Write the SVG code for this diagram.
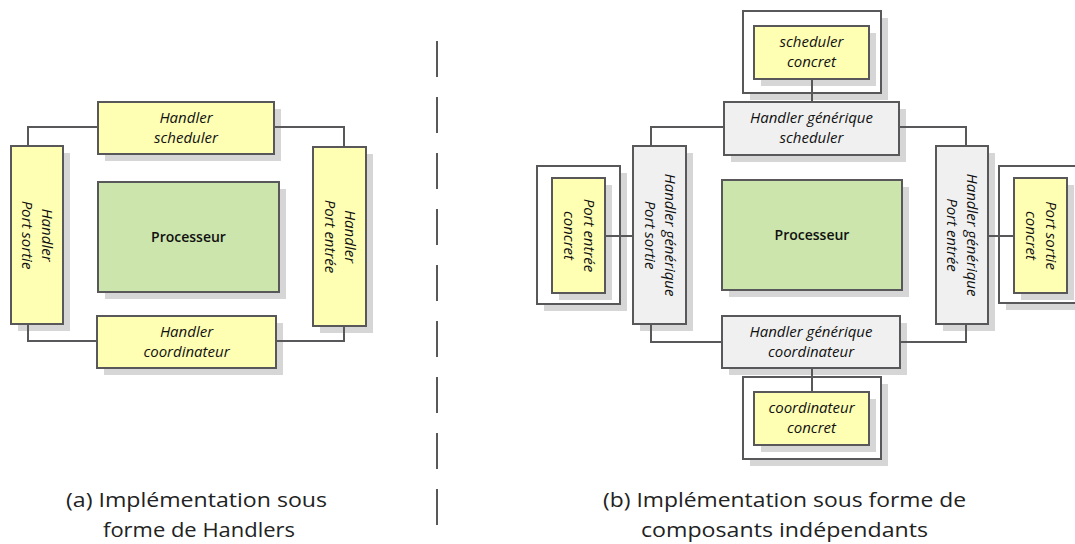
<svg xmlns="http://www.w3.org/2000/svg" width="1075" height="544" viewBox="0 0 1075 544">
<style>
.b{stroke:#58585a;stroke-width:2}
.y{fill:#ffffb4}
.g{fill:#f0f0f0}
.w{fill:#ffffff}
.p{fill:#cbe5ac}
.s{fill:#d6d6d6}
.t{font-family:"Open Sans","Liberation Sans",sans-serif;font-size:15px;font-weight:500;font-style:italic;fill:#111;text-anchor:middle}
.n{font-family:"Open Sans","Liberation Sans",sans-serif;font-size:14px;font-weight:600;fill:#111;text-anchor:middle}
.c{font-family:"Open Sans","Liberation Sans",sans-serif;font-size:20px;fill:#222;text-anchor:middle}
.l{fill:none;stroke:#58585a;stroke-width:2}
</style>
<rect width="1075" height="544" fill="#fff"/>
<g id="handler-scheduler">
<rect class="s" x="105" y="109" width="176" height="52"/>
<rect class="b y" x="98" y="102" width="176" height="52"/>
<text class="t" x="186" y="123">Handler</text>
<text class="t" x="186" y="143">scheduler</text>
</g>
<g id="handler-port-sortie">
<rect class="s" x="18" y="153" width="52" height="178"/>
<rect class="b y" x="11" y="146" width="52" height="178"/>
<g transform="translate(37,235) rotate(90)">
<text class="t" x="0" y="-5">Handler</text>
<text class="t" x="0" y="15">Port sortie</text>
</g>
</g>
<g id="handler-port-entree">
<rect class="s" x="320" y="154" width="53" height="179"/>
<rect class="b y" x="313" y="147" width="53" height="179"/>
<g transform="translate(339.5,236.5) rotate(90)">
<text class="t" x="0" y="-5">Handler</text>
<text class="t" x="0" y="15">Port entrée</text>
</g>
</g>
<g id="processeur-a">
<rect class="s" x="105" y="189" width="181" height="110"/>
<rect class="b p" x="98" y="182" width="181" height="110"/>
<text class="n" x="188.5" y="242">Processeur</text>
</g>
<g id="handler-coordinateur">
<rect class="s" x="104" y="323" width="179" height="52"/>
<rect class="b y" x="97" y="316" width="179" height="52"/>
<text class="t" x="186.5" y="337">Handler</text>
<text class="t" x="186.5" y="357">coordinateur</text>
</g>
<g id="scheduler-concret">
<rect class="s" x="750" y="18" width="138" height="82"/>
<rect class="b w" x="743" y="11" width="138" height="82"/>
<rect class="s" x="761" y="33" width="115" height="53"/>
<rect class="b y" x="754" y="26" width="115" height="53"/>
<text class="t" x="811.5" y="47">scheduler</text>
<text class="t" x="811.5" y="67">concret</text>
</g>
<g id="handler-generique-scheduler">
<rect class="s" x="731" y="109" width="175" height="53"/>
<rect class="b g" x="724" y="102" width="175" height="53"/>
<text class="t" x="811.5" y="123">Handler générique</text>
<text class="t" x="811.5" y="143">scheduler</text>
</g>
<g id="port-entree-concret">
<rect class="s" x="544" y="173" width="83" height="138"/>
<rect class="b w" x="537" y="166" width="83" height="138"/>
<rect class="s" x="559" y="185" width="53" height="115"/>
<rect class="b y" x="552" y="178" width="53" height="115"/>
<g transform="translate(578.5,235.5) rotate(90)">
<text class="t" x="0" y="-5">Port entrée</text>
<text class="t" x="0" y="15">concret</text>
</g>
</g>
<g id="handler-generique-port-sortie">
<rect class="s" x="640" y="153" width="53" height="178"/>
<rect class="b g" x="633" y="146" width="53" height="178"/>
<g transform="translate(659.5,235) rotate(90)">
<text class="t" x="0" y="-5">Handler générique</text>
<text class="t" x="0" y="15">Port sortie</text>
</g>
</g>
<g id="processeur-b">
<rect class="s" x="729" y="187" width="180" height="110"/>
<rect class="b p" x="722" y="180" width="180" height="110"/>
<text class="n" x="812" y="240">Processeur</text>
</g>
<g id="handler-generique-port-entree">
<rect class="s" x="943" y="153" width="52" height="178"/>
<rect class="b g" x="936" y="146" width="52" height="178"/>
<g transform="translate(962,235) rotate(90)">
<text class="t" x="0" y="-5">Handler générique</text>
<text class="t" x="0" y="15">Port entrée</text>
</g>
</g>
<g id="port-sortie-concret">
<rect class="s" x="1006" y="173" width="83" height="137"/>
<rect class="b w" x="999" y="166" width="83" height="137"/>
<rect class="s" x="1021" y="185" width="53" height="115"/>
<rect class="b y" x="1014" y="178" width="53" height="115"/>
<g transform="translate(1040.5,235.5) rotate(90)">
<text class="t" x="0" y="-5">Port sortie</text>
<text class="t" x="0" y="15">concret</text>
</g>
</g>
<g id="handler-generique-coordinateur">
<rect class="s" x="729" y="323" width="178" height="52"/>
<rect class="b g" x="722" y="316" width="178" height="52"/>
<text class="t" x="811" y="337">Handler générique</text>
<text class="t" x="811" y="357">coordinateur</text>
</g>
<g id="coordinateur-concret">
<rect class="s" x="750" y="384" width="138" height="82"/>
<rect class="b w" x="743" y="377" width="138" height="82"/>
<rect class="s" x="761" y="399" width="115" height="53"/>
<rect class="b y" x="754" y="392" width="115" height="53"/>
<text class="t" x="811.5" y="413">coordinateur</text>
<text class="t" x="811.5" y="433">concret</text>
</g>
<g id="connectors">
<polyline class="l" points="98,127 28,127 28,146"/>
<polyline class="l" points="274,127 344,127 344,147"/>
<polyline class="l" points="28,324 28,341 97,341"/>
<polyline class="l" points="276,341 344,341 344,326"/>
<polyline class="l" points="724,127 651,127 651,146"/>
<polyline class="l" points="899,127 966,127 966,146"/>
<polyline class="l" points="651,324 651,342 722,342"/>
<polyline class="l" points="900,342 966,342 966,324"/>
<line class="l" x1="812" y1="79" x2="812" y2="102"/>
<line class="l" x1="812" y1="368" x2="812" y2="392"/>
<line class="l" x1="605" y1="236" x2="633" y2="236"/>
<line class="l" x1="988" y1="236" x2="1014" y2="236"/>
<line x1="437" y1="41" x2="437" y2="544" stroke="#58585a" stroke-width="2" stroke-dasharray="36 20"/>
</g>
<g id="captions">
<text class="c" x="196.5" y="507" textLength="261" lengthAdjust="spacingAndGlyphs">(a) Implémentation sous</text>
<text class="c" x="199" y="537" textLength="192" lengthAdjust="spacingAndGlyphs">forme de Handlers</text>
<text class="c" x="784.5" y="507" textLength="363" lengthAdjust="spacingAndGlyphs">(b) Implémentation sous forme de</text>
<text class="c" x="784.5" y="537" textLength="287" lengthAdjust="spacingAndGlyphs">composants indépendants</text>
</g>
</svg>
